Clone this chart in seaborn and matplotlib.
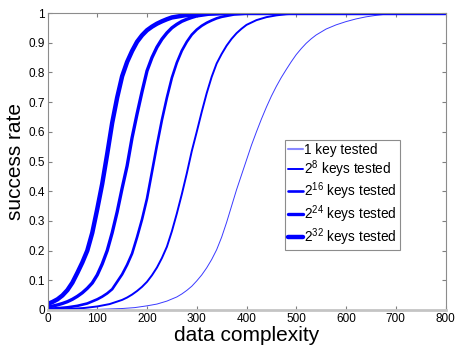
import numpy as np
import pandas as pd
import matplotlib
matplotlib.use("Agg")
import matplotlib.pyplot as plt
import seaborn as sns
from matplotlib.lines import Line2D

# values: data complexity (x) and success rate (y) per key count
x_1 = [0, 50, 100, 150, 175, 200, 220, 240, 260, 270, 280, 290, 300, 310, 320, 330, 340,
       350, 360, 370, 380, 390, 400, 410, 420, 430, 440, 450, 460, 470, 480, 490, 500,
       510, 520, 530, 540, 560, 580, 600, 620, 640, 660, 680, 700, 750, 800]
y_1 = [0.0, 0.0003, 0.002, 0.005, 0.008, 0.014, 0.02, 0.03, 0.044, 0.054, 0.066, 0.08,
       0.098, 0.118, 0.142, 0.17, 0.203, 0.245, 0.295, 0.35, 0.405, 0.455, 0.505, 0.555,
       0.6, 0.643, 0.683, 0.72, 0.753, 0.783, 0.81, 0.836, 0.86, 0.88, 0.898, 0.913, 0.926,
       0.946, 0.96, 0.971, 0.98, 0.987, 0.992, 0.996, 0.998, 1.0, 1.0]

x_8 = [0, 25, 50, 75, 100, 125, 150, 160, 170, 180, 190, 200, 210, 220, 230, 240, 250,
       260, 270, 280, 290, 300, 310, 320, 330, 340, 350, 360, 370, 380, 390, 400, 420, 440,
       460, 480, 500, 525, 550, 800]
y_8 = [0.001, 0.002, 0.004, 0.007, 0.012, 0.02, 0.034, 0.042, 0.052, 0.064, 0.078, 0.095,
       0.117, 0.143, 0.175, 0.213, 0.265, 0.325, 0.39, 0.46, 0.535, 0.6, 0.667, 0.73, 0.785,
       0.83, 0.862, 0.89, 0.913, 0.932, 0.947, 0.96, 0.976, 0.986, 0.992, 0.996, 0.998,
       0.999, 1.0, 1.0]

x_16 = [0, 20, 40, 60, 80, 100, 110, 120, 130, 140, 150, 160, 170, 180, 190, 200, 210,
        220, 230, 240, 250, 260, 270, 280, 290, 300, 310, 320, 330, 340, 350, 375, 400, 425,
        800]
y_16 = [0.004, 0.006, 0.009, 0.014, 0.022, 0.036, 0.045, 0.056, 0.07, 0.095, 0.12, 0.152,
        0.19, 0.245, 0.305, 0.375, 0.465, 0.555, 0.64, 0.715, 0.782, 0.833, 0.873, 0.903,
        0.927, 0.944, 0.957, 0.967, 0.975, 0.982, 0.987, 0.995, 0.998, 1.0, 1.0]

x_24 = [0, 10, 20, 30, 40, 50, 60, 70, 80, 90, 100, 110, 120, 130, 140, 150, 160, 170,
        180, 190, 200, 210, 220, 230, 240, 250, 260, 270, 280, 290, 300, 325, 350, 375,
        400, 800]
y_24 = [0.01, 0.013, 0.017, 0.022, 0.028, 0.036, 0.046, 0.058, 0.073, 0.091, 0.118, 0.155,
        0.2, 0.26, 0.33, 0.41, 0.485, 0.58, 0.66, 0.735, 0.805, 0.85, 0.885, 0.912, 0.933,
        0.95, 0.962, 0.972, 0.979, 0.985, 0.99, 0.996, 0.998, 0.999, 1.0, 1.0]

x_32 = [0, 10, 20, 30, 40, 50, 60, 70, 80, 90, 100, 110, 120, 130, 140, 150, 160, 170,
        180, 190, 200, 210, 220, 230, 240, 250, 275, 300, 325, 350, 800]
y_32 = [0.02, 0.027, 0.036, 0.049, 0.067, 0.092, 0.125, 0.16, 0.2, 0.26, 0.34, 0.425,
        0.525, 0.63, 0.715, 0.787, 0.835, 0.872, 0.903, 0.925, 0.942, 0.954, 0.964, 0.972,
        0.979, 0.985, 0.992, 0.997, 0.999, 1.0, 1.0]

labels = ["1 key tested", r"$2^{8}$ keys tested", r"$2^{16}$ keys tested",
          r"$2^{24}$ keys tested", r"$2^{32}$ keys tested"]
series = [(x_1, y_1), (x_8, y_8), (x_16, y_16), (x_24, y_24), (x_32, y_32)]

x_ticks = [0, 100, 200, 300, 400, 500, 600, 700, 800]
y_ticks = [0, 0.1, 0.2, 0.3, 0.4, 0.5, 0.6, 0.7, 0.8, 0.9, 1]
y_tick_labels = ["0", "0.1", "0.2", "0.3", "0.4", "0.5", "0.6", "0.7", "0.8", "0.9", "1"]

sns.set_style("white")
plt.rcParams["font.family"] = ["Liberation Sans", "DejaVu Sans"]
plt.rcParams["mathtext.fontset"] = "custom"
plt.rcParams["mathtext.rm"] = "Liberation Sans"
plt.rcParams["mathtext.it"] = "Liberation Sans:italic"
plt.rcParams["mathtext.bf"] = "Liberation Sans:bold"
for key in ["text.color", "axes.labelcolor", "xtick.color", "ytick.color"]:
    plt.rcParams[key] = "black"

df = pd.concat([pd.DataFrame({"complexity": xs, "rate": ys, "label": lab})
                for (xs, ys), lab in zip(series, labels)], ignore_index=True)

fig = plt.figure(figsize=(4.58, 3.48), dpi=100)
ax = fig.add_axes([47.5 / 458, 38 / 348, 398 / 458, 297 / 348])

widths = [0.7, 1.4, 1.9, 2.4, 3.2]
palette = {lab: "#0000ff" for lab in labels}
sns.lineplot(data=df, x="complexity", y="rate", hue="label", hue_order=labels,
             palette=palette, ax=ax, legend=False)
for line, w in zip(ax.get_lines(), widths):
    line.set_linewidth(w)
ax.get_lines()[0].set_color("#3a3aff")

ax.set_xlim(0, 800)
ax.set_ylim(0, 1)
ax.set_xticks(x_ticks)
ax.set_yticks(y_ticks)
ax.set_yticklabels(y_tick_labels)
ax.tick_params(direction="in", length=3, labelsize=8.5, pad=2,
               top=True, right=True, bottom=True, left=True)
ax.tick_params(which="both", color="#808080")
for side in ["left", "right", "top"]:
    ax.spines[side].set_color("#8c8c8c")
    ax.spines[side].set_linewidth(0.8)
ax.spines["bottom"].set_color("#c4c4c4")
ax.spines["bottom"].set_linewidth(2)

ax.set_xlabel("data complexity", fontsize=15, labelpad=1)
ax.set_ylabel("success rate", fontsize=15, labelpad=2)

handles = [Line2D([], [], color="#0000ff", lw=w) for w in widths]
handles[0].set_color("#8888ff")
handles[0].set_linewidth(1.5)
leg = ax.legend(handles, labels, loc="upper left", bbox_to_anchor=(0.597, 0.572),
                borderaxespad=0, fontsize=9.8, frameon=True, fancybox=False,
                framealpha=1, edgecolor="#8c8c8c", handlelength=1.1, handletextpad=0.1,
                labelspacing=0.08, borderpad=0.2)
leg.get_frame().set_linewidth(0.8)

fig.savefig("out.png", dpi=100)
